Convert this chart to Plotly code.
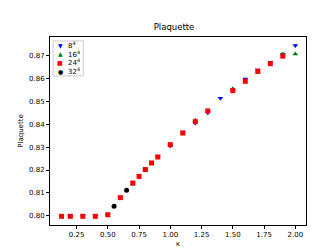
import plotly.graph_objects as go

# 8^4
k8 = [0.13, 0.2, 0.3, 0.4, 0.5, 0.6, 0.7, 0.8, 0.9, 1.0, 1.1, 1.2, 1.3, 1.4, 1.5, 1.6, 1.7, 1.8, 1.9, 2.0]
p8 = [0.7999, 0.7999, 0.7999, 0.7999, 0.8005, 0.8079, 0.8143, 0.8202, 0.8260, 0.8306, 0.8367, 0.8406, 0.8451, 0.8514, 0.8550, 0.8599, 0.8638, 0.8672, 0.8706, 0.8746]
e8 = [0.0003] * len(k8)
# 16^4
k16 = [0.7, 1.1, 1.2, 1.5, 1.7, 1.9, 2.0]
p16 = [0.8138, 0.8360, 0.8418, 0.8556, 0.8627, 0.8708, 0.8709]
e16 = [0.0003] * len(k16)
# 24^4
k24 = [0.13, 0.2, 0.3, 0.4, 0.5, 0.6, 0.7, 0.75, 0.8, 0.85, 0.9, 1.0, 1.1, 1.2, 1.3, 1.5, 1.6, 1.7, 1.8, 1.9]
p24 = [0.7997, 0.7997, 0.7997, 0.7997, 0.8004, 0.8079, 0.8143, 0.8172, 0.8202, 0.8231, 0.8257, 0.8311, 0.8362, 0.8412, 0.8459, 0.8548, 0.8589, 0.8633, 0.8666, 0.8699]
e24 = [0.0003] * len(k24)
# 32^4
k32 = [0.55, 0.65]
p32 = [0.8041, 0.8111]
e32 = [0.0003] * len(k32)

labels = ["8<sup>4</sup>", "16<sup>4</sup>", "24<sup>4</sup>", "32<sup>4</sup>"]
colors = ["blue", "green", "red", "black"]
symbols = ["triangle-down", "triangle-up", "square", "circle"]
glyphs = ["▼", "▲", "■", "●"]

series = [(k8, p8, e8), (k16, p16, e16), (k24, p24, e24), (k32, p32, e32)]

fig = go.Figure()
for (x, y, e), name, c, sym in zip(series, labels, colors, symbols):
    fig.add_trace(go.Scatter(
        x=x, y=y, mode="markers", name=name,
        marker=dict(color=c, symbol=sym, size=5, line=dict(width=0)),
        error_y=dict(type="data", array=e, color=c, thickness=1, width=0),
    ))

# compact matplotlib-style legend drawn as text
legend_y = [0.955, 0.910, 0.865, 0.819]
for name, c, g, yy in zip(labels, colors, glyphs, legend_y):
    fig.add_annotation(xref="paper", yref="paper", x=0.040, y=yy, text=g,
                       showarrow=False, xanchor="center", yanchor="middle",
                       font=dict(size=6, color=c))
    fig.add_annotation(xref="paper", yref="paper", x=0.064, y=yy, text=name,
                       showarrow=False, xanchor="left", yanchor="middle",
                       font=dict(size=7, color="black"))
fig.add_shape(type="rect", xref="paper", yref="paper", x0=0.012, x1=0.13, y0=0.793, y1=0.979,
              line=dict(color="#cccccc", width=1), fillcolor="rgba(255,255,255,0.8)", layer="below")

fig.update_layout(
    width=332, height=249,
    margin=dict(l=42, r=34, t=29, b=32),
    paper_bgcolor="white", plot_bgcolor="white",
    font=dict(family="DejaVu Sans", size=7, color="black"),
    title=dict(text="Plaquette", x=0.5, xanchor="center", y=0.925, yanchor="middle",
               font=dict(size=8.5, family="DejaVu Sans")),
    showlegend=False,
)
fig.update_xaxes(
    range=[0.0374, 2.0855], tickvals=[0.25, 0.5, 0.75, 1.0, 1.25, 1.5, 1.75, 2.0],
    ticktext=["0.25", "0.50", "0.75", "1.00", "1.25", "1.50", "1.75", "2.00"],
    showgrid=False, zeroline=False, showline=True, linecolor="black", linewidth=1,
    mirror=True, ticks="outside", ticklen=3, tickwidth=1, tickcolor="black",
    title=dict(text="κ", standoff=2, font=dict(size=7)),
)
fig.update_yaxes(
    range=[0.7959, 0.8783], tickvals=[0.80, 0.81, 0.82, 0.83, 0.84, 0.85, 0.86, 0.87],
    ticktext=["0.80", "0.81", "0.82", "0.83", "0.84", "0.85", "0.86", "0.87"],
    showgrid=False, zeroline=False, showline=True, linecolor="black", linewidth=1,
    mirror=True, ticks="outside", ticklen=3, tickwidth=1, tickcolor="black",
    title=dict(text="Plaquette", standoff=4, font=dict(size=7)),
)

fig.write_html("out.html")
